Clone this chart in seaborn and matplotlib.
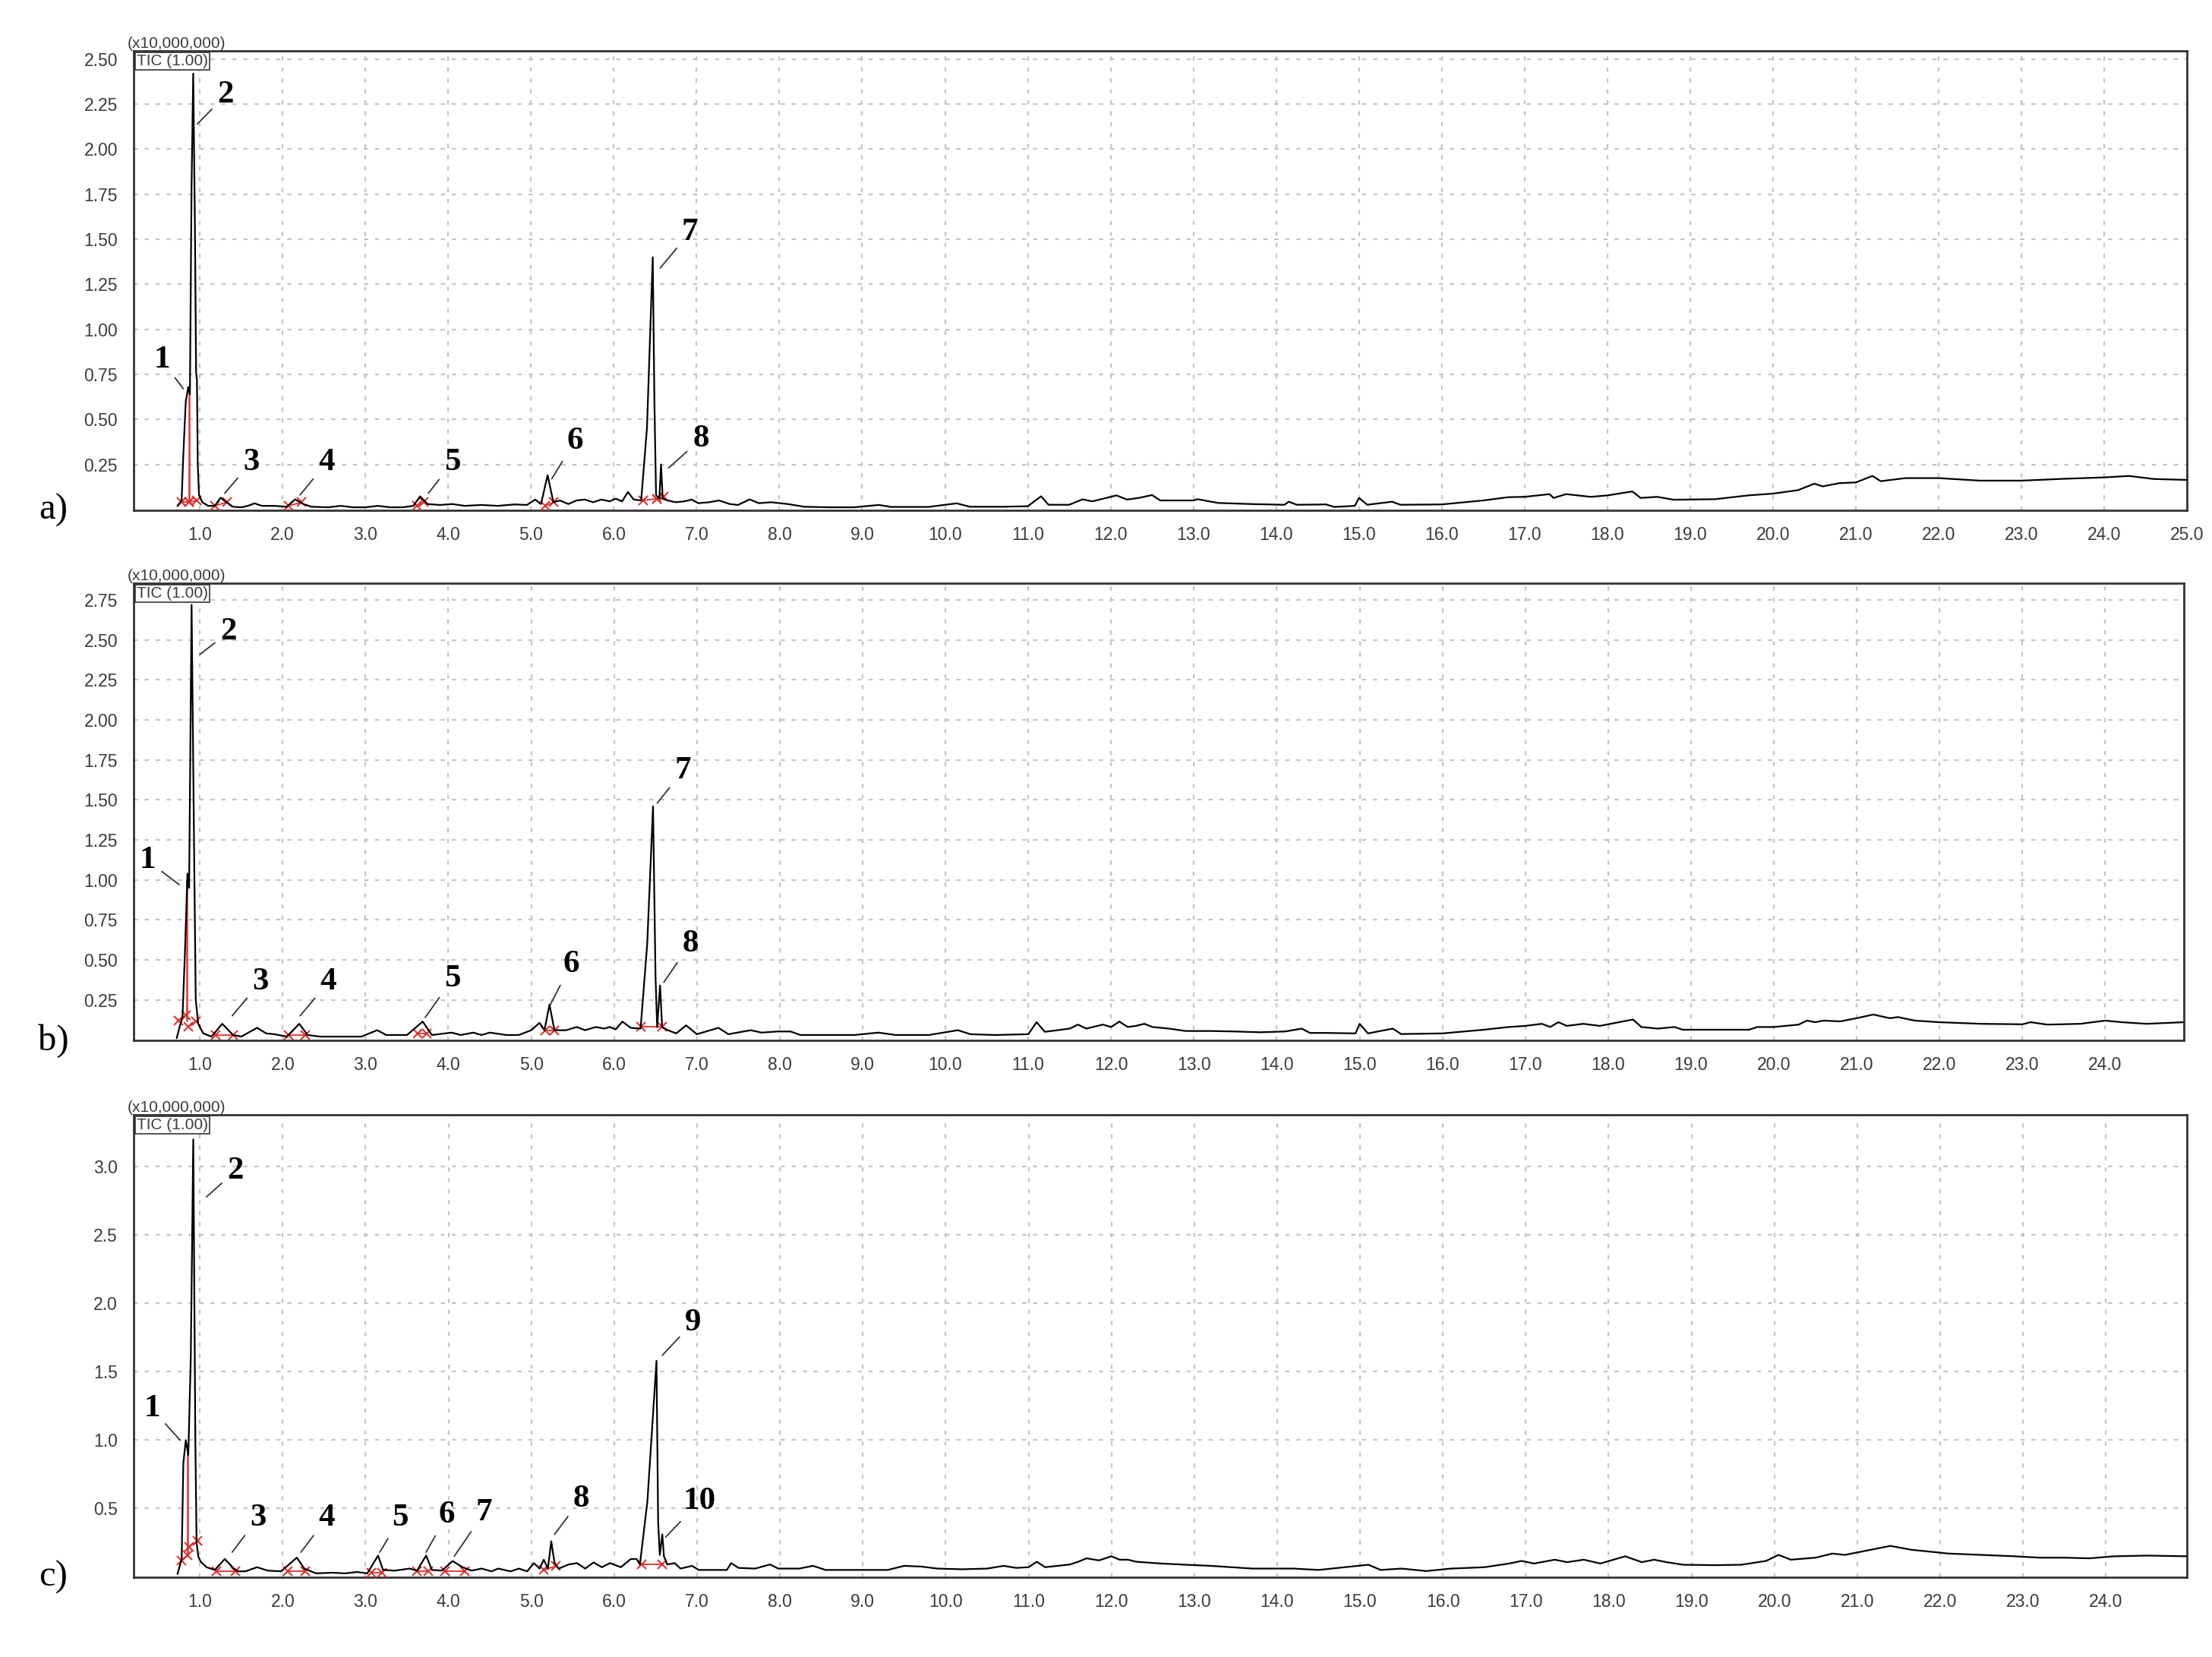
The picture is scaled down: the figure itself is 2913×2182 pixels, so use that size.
import matplotlib
matplotlib.use("Agg")
import matplotlib.pyplot as plt
from matplotlib.ticker import MultipleLocator, FixedLocator, FormatStrFormatter
import numpy as np
import pandas as pd
import seaborn as sns

# retention time (min), TIC intensity (x10,000,000)
trace_a = [
    (0.73, 0.02), (0.78, 0.05), (0.80, 0.30), (0.83, 0.60), (0.86, 0.68), (0.88, 0.64),
    (0.90, 1.80), (0.92, 2.42), (0.94, 1.60), (0.955, 0.76), (0.965, 0.72), (0.975, 0.25),
    (0.99, 0.08), (1.03, 0.04), (1.10, 0.02), (1.18, 0.02), (1.25, 0.065), (1.32, 0.04),
    (1.40, 0.015), (1.50, 0.012), (1.58, 0.02), (1.66, 0.034), (1.75, 0.02), (1.90, 0.02),
    (2.05, 0.015), (2.15, 0.056), (2.25, 0.03), (2.35, 0.015), (2.55, 0.012), (2.70, 0.02),
    (2.85, 0.012), (3.00, 0.012), (3.15, 0.02), (3.30, 0.012), (3.45, 0.012), (3.58, 0.02),
    (3.66, 0.073), (3.75, 0.03), (3.90, 0.025), (4.05, 0.03), (4.20, 0.02), (4.40, 0.025),
    (4.60, 0.02), (4.80, 0.028), (4.95, 0.025), (5.05, 0.055), (5.12, 0.03), (5.20, 0.19),
    (5.27, 0.04), (5.35, 0.05), (5.45, 0.03), (5.55, 0.05), (5.65, 0.055), (5.75, 0.04),
    (5.85, 0.055), (5.95, 0.045), (6.02, 0.06), (6.10, 0.045), (6.17, 0.097), (6.24, 0.055),
    (6.33, 0.05), (6.40, 0.45), (6.47, 1.40), (6.49, 0.60), (6.51, 0.08), (6.55, 0.06),
    (6.57, 0.25), (6.59, 0.06), (6.65, 0.05), (6.75, 0.04), (6.85, 0.045), (6.94, 0.055),
    (7.02, 0.035), (7.15, 0.04), (7.27, 0.05), (7.40, 0.03), (7.50, 0.025), (7.64, 0.056),
    (7.75, 0.035), (7.90, 0.04), (8.10, 0.03), (8.30, 0.015), (8.60, 0.012), (8.90, 0.012),
    (9.20, 0.025), (9.35, 0.014), (9.80, 0.014), (10.14, 0.034), (10.30, 0.015), (10.70, 0.015),
    (11.00, 0.018), (11.16, 0.073), (11.25, 0.026), (11.50, 0.026), (11.66, 0.056), (11.78, 0.045),
    (11.94, 0.063), (12.07, 0.078), (12.20, 0.055), (12.35, 0.065), (12.50, 0.08), (12.60, 0.05),
    (13.00, 0.05), (13.05, 0.057), (13.30, 0.036), (13.70, 0.03), (14.10, 0.026), (14.15, 0.043),
    (14.25, 0.026), (14.60, 0.028), (14.70, 0.014), (14.95, 0.02), (15.00, 0.064), (15.10, 0.026),
    (15.40, 0.043), (15.50, 0.026), (16.00, 0.028), (16.50, 0.05), (16.80, 0.068), (17.00, 0.07),
    (17.30, 0.085), (17.35, 0.064), (17.50, 0.085), (17.80, 0.07), (18.00, 0.078), (18.30, 0.10),
    (18.40, 0.064), (18.60, 0.07), (18.80, 0.054), (19.30, 0.057), (19.70, 0.078), (20.00, 0.088),
    (20.30, 0.107), (20.50, 0.143), (20.60, 0.128), (20.80, 0.146), (21.00, 0.15), (21.20, 0.186),
    (21.30, 0.157), (21.60, 0.174), (22.00, 0.174), (22.50, 0.16), (23.00, 0.16), (23.50, 0.17),
    (24.00, 0.178), (24.30, 0.186), (24.60, 0.169), (25.00, 0.164),
]

trace_b = [
    (0.72, 0.01), (0.76, 0.09), (0.79, 0.14), (0.82, 0.55), (0.85, 1.04), (0.87, 0.95),
    (0.90, 2.72), (0.93, 1.20), (0.95, 0.25), (0.98, 0.10), (1.04, 0.04), (1.14, 0.02),
    (1.27, 0.10), (1.40, 0.03), (1.50, 0.02), (1.69, 0.075), (1.80, 0.04), (1.90, 0.035),
    (2.05, 0.02), (2.20, 0.10), (2.30, 0.03), (2.45, 0.02), (2.70, 0.02), (2.95, 0.02),
    (3.14, 0.06), (3.25, 0.03), (3.50, 0.03), (3.69, 0.114), (3.80, 0.03), (4.04, 0.045),
    (4.15, 0.03), (4.30, 0.045), (4.40, 0.03), (4.50, 0.045), (4.70, 0.03), (4.85, 0.03),
    (5.00, 0.06), (5.10, 0.106), (5.16, 0.06), (5.22, 0.22), (5.28, 0.06), (5.42, 0.06),
    (5.55, 0.08), (5.65, 0.06), (5.78, 0.08), (5.88, 0.07), (5.95, 0.08), (6.02, 0.065),
    (6.10, 0.114), (6.20, 0.075), (6.32, 0.07), (6.40, 0.60), (6.47, 1.46), (6.50, 0.40),
    (6.52, 0.08), (6.555, 0.34), (6.58, 0.08), (6.65, 0.06), (6.75, 0.04), (6.87, 0.09),
    (7.00, 0.035), (7.26, 0.075), (7.38, 0.035), (7.65, 0.06), (7.78, 0.045), (7.97, 0.052),
    (8.13, 0.052), (8.25, 0.03), (8.60, 0.03), (8.90, 0.03), (9.19, 0.045), (9.40, 0.03),
    (9.80, 0.03), (10.15, 0.06), (10.30, 0.035), (10.60, 0.03), (11.00, 0.035), (11.10, 0.11),
    (11.20, 0.05), (11.50, 0.07), (11.60, 0.095), (11.70, 0.07), (11.90, 0.095), (12.00, 0.08),
    (12.10, 0.114), (12.20, 0.08), (12.30, 0.087), (12.40, 0.10), (12.50, 0.08), (12.70, 0.07),
    (12.90, 0.055), (13.20, 0.055), (13.50, 0.052), (13.80, 0.047), (14.10, 0.052), (14.30, 0.07),
    (14.40, 0.043), (14.60, 0.043), (14.95, 0.04), (15.00, 0.10), (15.10, 0.04), (15.40, 0.07),
    (15.50, 0.036), (16.00, 0.04), (16.50, 0.063), (16.80, 0.08), (17.00, 0.087), (17.20, 0.10),
    (17.30, 0.08), (17.40, 0.11), (17.50, 0.087), (17.70, 0.10), (17.90, 0.087), (18.30, 0.127),
    (18.40, 0.08), (18.60, 0.07), (18.80, 0.08), (18.90, 0.063), (19.70, 0.063), (19.80, 0.08),
    (20.00, 0.08), (20.30, 0.095), (20.40, 0.12), (20.50, 0.11), (20.60, 0.12), (20.80, 0.115),
    (21.00, 0.135), (21.20, 0.158), (21.40, 0.135), (21.50, 0.142), (21.70, 0.12), (22.00, 0.11),
    (22.50, 0.10), (23.00, 0.097), (23.10, 0.11), (23.30, 0.095), (23.70, 0.10), (24.00, 0.12),
    (24.20, 0.11), (24.50, 0.10), (24.95, 0.11),
]

trace_c = [
    (0.73, 0.02), (0.78, 0.13), (0.80, 0.83), (0.83, 1.00), (0.86, 0.89), (0.89, 1.60),
    (0.92, 3.20), (0.945, 1.00), (0.96, 0.25), (0.98, 0.15), (1.01, 0.11), (1.08, 0.07),
    (1.18, 0.05), (1.30, 0.13), (1.41, 0.06), (1.46, 0.04), (1.55, 0.04), (1.69, 0.07),
    (1.82, 0.045), (1.98, 0.04), (2.17, 0.14), (2.26, 0.06), (2.40, 0.025), (2.60, 0.03),
    (2.75, 0.025), (2.90, 0.035), (3.02, 0.025), (3.15, 0.155), (3.21, 0.05), (3.35, 0.045),
    (3.53, 0.06), (3.62, 0.045), (3.73, 0.155), (3.80, 0.05), (3.92, 0.045), (4.05, 0.115),
    (4.17, 0.07), (4.28, 0.045), (4.40, 0.06), (4.52, 0.04), (4.60, 0.06), (4.75, 0.04),
    (4.85, 0.06), (4.95, 0.04), (5.03, 0.10), (5.10, 0.06), (5.15, 0.125), (5.20, 0.06),
    (5.24, 0.26), (5.28, 0.10), (5.33, 0.06), (5.45, 0.09), (5.55, 0.10), (5.65, 0.06),
    (5.75, 0.105), (5.85, 0.07), (5.95, 0.10), (6.08, 0.07), (6.20, 0.13), (6.27, 0.13),
    (6.31, 0.09), (6.40, 0.55), (6.51, 1.58), (6.53, 0.40), (6.55, 0.16), (6.58, 0.31),
    (6.60, 0.15), (6.64, 0.09), (6.73, 0.10), (6.80, 0.06), (6.94, 0.08), (7.02, 0.05),
    (7.36, 0.05), (7.41, 0.10), (7.50, 0.065), (7.70, 0.06), (7.88, 0.09), (7.98, 0.06),
    (8.23, 0.06), (8.40, 0.08), (8.55, 0.05), (9.00, 0.05), (9.30, 0.05), (9.50, 0.08),
    (9.70, 0.075), (9.90, 0.06), (10.20, 0.055), (10.50, 0.06), (10.70, 0.08), (10.85, 0.065),
    (11.00, 0.07), (11.10, 0.11), (11.20, 0.07), (11.35, 0.08), (11.50, 0.09), (11.60, 0.11),
    (11.70, 0.135), (11.85, 0.12), (12.00, 0.15), (12.10, 0.125), (12.20, 0.125), (12.30, 0.11),
    (12.60, 0.097), (12.90, 0.088), (13.20, 0.08), (13.70, 0.06), (14.20, 0.06), (14.50, 0.05),
    (15.10, 0.088), (15.25, 0.05), (15.50, 0.06), (15.80, 0.042), (16.10, 0.06), (16.50, 0.07),
    (16.80, 0.097), (16.95, 0.116), (17.10, 0.097), (17.35, 0.125), (17.50, 0.107), (17.70, 0.125),
    (17.90, 0.097), (18.20, 0.15), (18.40, 0.107), (18.55, 0.125), (18.70, 0.107), (18.90, 0.088),
    (19.30, 0.085), (19.60, 0.088), (19.90, 0.116), (20.05, 0.16), (20.20, 0.125), (20.50, 0.14),
    (20.70, 0.17), (20.85, 0.16), (21.10, 0.19), (21.40, 0.226), (21.65, 0.198), (22.10, 0.17),
    (22.50, 0.16), (22.90, 0.15), (23.20, 0.14), (23.50, 0.14), (23.80, 0.135), (24.10, 0.15),
    (24.50, 0.155), (24.98, 0.15),
]

# integration markers: (t_start, t_end, level_start, level_end)
marks_a = [(0.78, 0.87, 0.04, 0.04), (0.87, 0.96, 0.04, 0.05), (1.18, 1.33, 0.02, 0.04),
           (2.07, 2.23, 0.02, 0.04), (3.62, 3.70, 0.02, 0.04), (5.17, 5.27, 0.02, 0.04),
           (6.35, 6.52, 0.05, 0.06), (6.52, 6.60, 0.06, 0.07)]
marks_b = [(0.74, 0.83, 0.12, 0.155), (0.86, 0.95, 0.083, 0.115), (1.19, 1.40, 0.03, 0.03),
           (2.07, 2.27, 0.03, 0.03), (3.63, 3.74, 0.04, 0.04), (5.17, 5.28, 0.06, 0.06),
           (6.32, 6.58, 0.08, 0.08)]
marks_c = [(0.78, 0.85, 0.116, 0.16), (0.87, 0.97, 0.218, 0.263), (1.20, 1.43, 0.04, 0.04),
           (2.06, 2.27, 0.04, 0.04), (3.07, 3.20, 0.03, 0.03), (3.62, 3.76, 0.04, 0.04),
           (3.96, 4.20, 0.04, 0.04), (5.15, 5.30, 0.05, 0.08), (6.33, 6.58, 0.09, 0.09)]

# red drop line under peak 1: (t, bottom, top)
drop_a = (0.87, 0.04, 0.66)
drop_b = (0.84, 0.12, 1.00)
drop_c = (0.85, 0.16, 0.95)

# peak labels: (text, text_t, text_v, tip_t, tip_v)
labels_a = [("1", 0.54, 0.83, 0.80, 0.67), ("2", 1.31, 2.30, 0.97, 2.14),
            ("3", 1.62, 0.26, 1.30, 0.09), ("4", 2.53, 0.26, 2.21, 0.08),
            ("5", 4.05, 0.26, 3.76, 0.09), ("6", 5.53, 0.38, 5.25, 0.17),
            ("7", 6.92, 1.54, 6.56, 1.34), ("8", 7.05, 0.39, 6.66, 0.23)]
labels_b = [("1", 0.37, 1.12, 0.75, 0.97), ("2", 1.35, 2.55, 1.00, 2.41),
            ("3", 1.73, 0.36, 1.39, 0.15), ("4", 2.55, 0.36, 2.21, 0.15),
            ("5", 4.05, 0.38, 3.72, 0.14), ("6", 5.48, 0.47, 5.23, 0.22),
            ("7", 6.83, 1.68, 6.52, 1.48), ("8", 6.92, 0.60, 6.60, 0.36)]
labels_c = [("1", 0.42, 1.23, 0.76, 1.00), ("2", 1.43, 2.97, 1.08, 2.78),
            ("3", 1.70, 0.43, 1.39, 0.18), ("4", 2.53, 0.43, 2.22, 0.18),
            ("5", 3.42, 0.43, 3.17, 0.18), ("6", 3.98, 0.45, 3.73, 0.18),
            ("7", 4.43, 0.47, 4.07, 0.15), ("8", 5.60, 0.57, 5.28, 0.31),
            ("9", 6.95, 1.86, 6.58, 1.62), ("10", 7.03, 0.55, 6.62, 0.29)]

yticks_a = [0.25, 0.50, 0.75, 1.00, 1.25, 1.50, 1.75, 2.00, 2.25, 2.50]
yticks_b = [0.25, 0.50, 0.75, 1.00, 1.25, 1.50, 1.75, 2.00, 2.25, 2.50, 2.75]
yticks_c = [0.5, 1.0, 1.5, 2.0, 2.5, 3.0]
xticks_a = list(np.arange(1, 26))
xticks_bc = list(np.arange(1, 25))

sns.set_style("white")
plt.rcParams["font.family"] = ["Liberation Sans", "DejaVu Sans"]

fig = plt.figure(figsize=(29.13, 21.82), dpi=100)

panels = [
    ("a)", [0.0604, 0.692, 0.9283, 0.2773], trace_a, marks_a, drop_a, labels_a,
     (-0.005, 2.546), yticks_a, "%.2f", 0.05, (0.2, 25.0), xticks_a),
    ("b)", [0.0604, 0.372, 0.9269, 0.2760], trace_b, marks_b, drop_b, labels_b,
     (-0.005, 2.855), yticks_b, "%.2f", 0.05, (0.2, 24.95), xticks_bc),
    ("c)", [0.0604, 0.048, 0.9283, 0.2792], trace_c, marks_c, drop_c, labels_c,
     (-0.005, 3.38), yticks_c, "%.1f", 0.1, (0.2, 24.98), xticks_bc),
]

tick_col = "#3a3a3a"
serif = ["Liberation Serif", "DejaVu Serif"]

for letter, rect, trace, marks, drop, labels, ylim, yticks, yfmt, yminor, xlim, xticks in panels:
    ax = fig.add_axes(rect)
    df = pd.DataFrame(trace, columns=["time", "tic"])

    # red integration marks
    for t0, t1, v0, v1 in marks:
        ax.plot([t0, t1], [v0, v1], color="#e0312f", lw=1.3, zorder=3)
        ax.plot([t0, t1], [v0, v1], ls="none", marker="x", ms=8, mew=1.5,
                color="#e0312f", zorder=4)
    ax.plot([drop[0], drop[0]], [drop[1], drop[2]], color="#e0312f", lw=1.8, zorder=3)

    sns.lineplot(data=df, x="time", y="tic", ax=ax, color="black", linewidth=1.6,
                 estimator=None, sort=False, zorder=5)

    for txt, tx, ty, px, py in labels:
        ax.annotate(txt, xy=(px, py), xytext=(tx, ty), ha="center", va="center",
                    fontsize=31, fontweight="bold", family=serif, color="black",
                    arrowprops=dict(arrowstyle="-", color="#333333", lw=1.3,
                                    shrinkA=4, shrinkB=0), zorder=6)

    ax.set_xlim(*xlim)
    ax.set_ylim(*ylim)
    ax.xaxis.set_major_locator(FixedLocator(xticks))
    ax.xaxis.set_minor_locator(MultipleLocator(0.2))
    ax.xaxis.set_major_formatter(FormatStrFormatter("%.1f"))
    ax.yaxis.set_major_locator(FixedLocator(yticks))
    ax.yaxis.set_minor_locator(MultipleLocator(yminor))
    ax.yaxis.set_major_formatter(FormatStrFormatter(yfmt))

    ax.grid(True, which="major", color="#c4c4c4", linestyle=(0, (2.5, 4)), linewidth=1.6)
    ax.tick_params(axis="both", which="major", direction="out", length=10, width=2,
                   color="#333333", labelsize=16.5, labelcolor=tick_col, pad=5)
    ax.tick_params(axis="both", which="minor", direction="out", length=6, width=1.8,
                   color="#333333")
    for sp in ax.spines.values():
        sp.set_visible(True)
        sp.set_color("#333333")
        sp.set_linewidth(2)
    ax.set_xlabel("")
    ax.set_ylabel("")

    ax.text(-0.003, 1.0, "(x10,000,000)", transform=ax.transAxes, ha="left",
            va="bottom", fontsize=15, color=tick_col)
    ax.text(0.0015, 0.994, "TIC (1.00)", transform=ax.transAxes, ha="left", va="top",
            fontsize=15, color=tick_col, zorder=7,
            bbox=dict(boxstyle="square,pad=0.1", facecolor="white",
                      edgecolor="#333333", linewidth=1.2))

    fig.text(0.024, rect[1] + 0.0, letter, ha="center", va="center",
             fontsize=35, family=serif, color="black")

fig.savefig("out.png", dpi=100)
